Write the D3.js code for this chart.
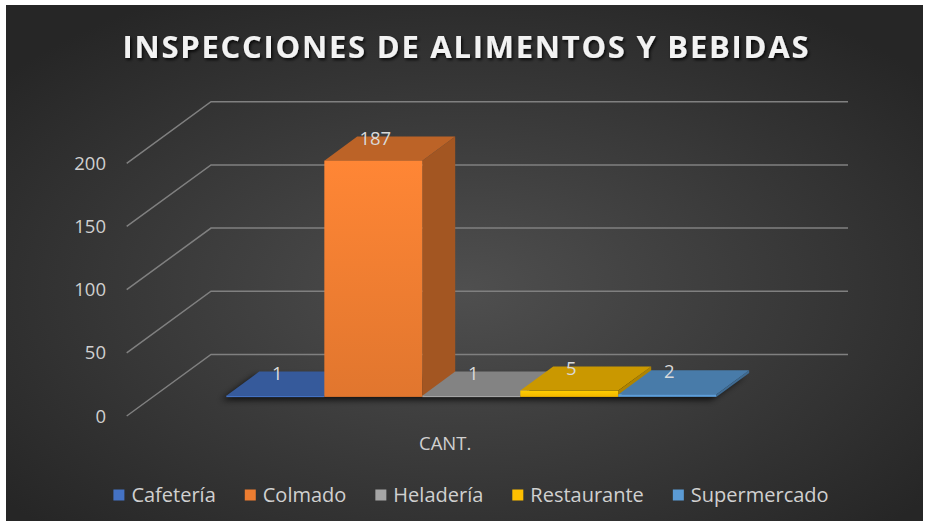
<!DOCTYPE html>
<html>
<head>
<meta charset="utf-8">
<script src="https://cdn.jsdelivr.net/npm/d3@7"></script>
<style>
  body { margin: 0; background: #fff; }
  text { font-family: "Open Sans", sans-serif; }
</style>
</head>
<body>
<div id="chart"></div>
<script>
// chart data
var categories = ["Cafetería", "Colmado", "Heladería", "Restaurante", "Supermercado"];
var values = [1, 187, 1, 5, 2];
var seriesColors = ["#4472C4", "#ED7D31", "#A5A5A5", "#FFC000", "#5B9BD5"];
var yTicks = [0, 50, 100, 150, 200];
var groupLabel = "CANT.";
var chartTitle = "INSPECCIONES DE ALIMENTOS Y BEBIDAS";

var W = 931, H = 527;

// front plane of the 3d box + depth vector
var front = { left: 126.7, right: 763.7, bottom: 416, top: 163.3 };
var depth = { dx: 84.3, dy: -61.6 };
var d0 = 0.31, d1 = 0.70; // bars sit between these depth fractions

var svg = d3.select("#chart").append("svg")
  .attr("width", W)
  .attr("height", H);

var defs = svg.append("defs");

// background radial gradient
var bg = defs.append("radialGradient").attr("id", "bg")
  .attr("cx", "50%").attr("cy", "55%").attr("r", "65%");
bg.append("stop").attr("offset", "0%").attr("stop-color", "#4f4f4f");
bg.append("stop").attr("offset", "100%").attr("stop-color", "#262626");

var shadow = defs.append("filter").attr("id", "titleShadow")
  .attr("x", "-10%").attr("y", "-30%").attr("width", "120%").attr("height", "160%");
shadow.append("feDropShadow").attr("dx", 1.5).attr("dy", 2).attr("stdDeviation", 1.5)
  .attr("flood-color", "#000").attr("flood-opacity", 0.8);

var blur = defs.append("filter").attr("id", "floorShadow")
  .attr("x", "-20%").attr("y", "-100%").attr("width", "140%").attr("height", "300%");
blur.append("feGaussianBlur").attr("stdDeviation", 3);

svg.append("rect")
  .attr("x", 6).attr("y", 5)
  .attr("width", 917).attr("height", 516)
  .attr("fill", "url(#bg)");

// title
svg.append("text")
  .attr("x", 465.5)
  .attr("y", 58)
  .attr("text-anchor", "middle")
  .attr("textLength", 686)
  .attr("lengthAdjust", "spacing")
  .attr("filter", "url(#titleShadow)")
  .style("font-size", "31px")
  .style("font-weight", "bold")
  .style("fill", "#f2f2f2")
  .text(chartTitle);

// scales
var y = d3.scaleLinear().domain([0, 200]).range([front.bottom, front.top]);
var x = d3.scaleBand().domain(categories)
  .range([front.left, front.right])
  .paddingInner(0).paddingOuter(0.75);

// gridlines: side wall diagonals + back wall horizontals
var grid = svg.append("g")
  .attr("stroke", "#808080")
  .attr("stroke-width", 1.5)
  .attr("fill", "none");

grid.selectAll("path")
  .data(yTicks)
  .enter().append("path")
  .attr("d", function (d) {
    var yf = y(d);
    return "M" + front.left + "," + yf +
      "L" + (front.left + depth.dx) + "," + (yf + depth.dy) +
      "L" + (front.right + depth.dx) + "," + (yf + depth.dy);
  });

// y axis labels
svg.append("g").selectAll("text")
  .data(yTicks)
  .enter().append("text")
  .attr("x", 106)
  .attr("y", function (d) { return y(d) + 6.5; })
  .attr("text-anchor", "end")
  .style("font-size", "18.5px")
  .style("fill", "#d0d0d0")
  .text(function (d) { return d; });

// bars
var bars = categories.map(function (c, i) {
  var xf = x(c) + d0 * depth.dx;
  var w = x.bandwidth();
  var yt = y(values[i]) + d0 * depth.dy;
  var yb = y(0) + d0 * depth.dy;
  var ddx = (d1 - d0) * depth.dx, ddy = (d1 - d0) * depth.dy;
  return { name: c, value: values[i], color: seriesColors[i], xf: xf, w: w, yt: yt, yb: yb, ddx: ddx, ddy: ddy };
});

// soft shadow under the bar row
var b0 = bars[0], bN = bars[bars.length - 1];
svg.append("polygon")
  .attr("points", [
    [b0.xf - 5, b0.yb + 3],
    [bN.xf + bN.w - 5, bN.yb + 3],
    [bN.xf + bN.w + bN.ddx - 5, bN.yb + bN.ddy + 3],
    [b0.xf + b0.ddx - 5, b0.yb + b0.ddy + 3]
  ].map(function (p) { return p.join(","); }).join(" "))
  .attr("fill", "#000")
  .attr("opacity", 0.75)
  .attr("filter", "url(#floorShadow)");

bars.forEach(function (b, i) {
  var g = defs.append("linearGradient").attr("id", "front" + i)
    .attr("x1", 0).attr("y1", 0).attr("x2", 0).attr("y2", 1);
  g.append("stop").attr("offset", "0%").attr("stop-color", d3.color(b.color).brighter(0.2));
  g.append("stop").attr("offset", "100%").attr("stop-color", d3.color(b.color).darker(0.15));
});

var barG = svg.append("g").selectAll("g")
  .data(bars)
  .enter().append("g");

// right side face
barG.append("polygon")
  .attr("points", function (b) {
    return [
      [b.xf + b.w, b.yt],
      [b.xf + b.w + b.ddx, b.yt + b.ddy],
      [b.xf + b.w + b.ddx, b.yb + b.ddy],
      [b.xf + b.w, b.yb]
    ].map(function (p) { return p.join(","); }).join(" ");
  })
  .attr("fill", function (b) { return d3.color(b.color).darker(1.05); });

// top face
barG.append("polygon")
  .attr("points", function (b) {
    return [
      [b.xf, b.yt],
      [b.xf + b.w, b.yt],
      [b.xf + b.w + b.ddx, b.yt + b.ddy],
      [b.xf + b.ddx, b.yt + b.ddy]
    ].map(function (p) { return p.join(","); }).join(" ");
  })
  .attr("fill", function (b) { return d3.color(b.color).darker(0.65); });

// front face
barG.append("rect")
  .attr("x", function (b) { return b.xf; })
  .attr("y", function (b) { return b.yt; })
  .attr("width", function (b) { return b.w; })
  .attr("height", function (b) { return Math.max(b.yb - b.yt, 1.5); })
  .attr("fill", function (b, i) { return "url(#front" + i + ")"; });

// data labels
barG.append("text")
  .attr("x", function (b) { return b.xf + b.w / 2 + 2; })
  .attr("y", function (b) { return b.yt - 16; })
  .attr("text-anchor", "middle")
  .style("font-size", "18.5px")
  .style("fill", "#d9d9d9")
  .text(function (b) { return b.value; });

// category label
svg.append("text")
  .attr("x", (front.left + front.right) / 2)
  .attr("y", 450)
  .attr("text-anchor", "middle")
  .style("font-size", "18.5px")
  .style("fill", "#d0d0d0")
  .text(groupLabel);

// legend
var legendSize = 11, legendGap = 7, itemGap = 29, legendCenter = 471, legendY = 495;
var legend = svg.append("g");
var items = legend.selectAll("g")
  .data(categories)
  .enter().append("g");

items.append("rect")
  .attr("width", legendSize)
  .attr("height", legendSize)
  .attr("y", legendY - legendSize / 2)
  .attr("fill", function (d, i) { return seriesColors[i]; });

items.append("text")
  .attr("x", legendSize + legendGap)
  .attr("y", legendY + 7)
  .style("font-size", "20px")
  .style("fill", "#d0d0d0")
  .text(function (d) { return d; });

var offsets = [], pos = 0;
items.each(function () {
  var tw = d3.select(this).select("text").node().getComputedTextLength();
  offsets.push(pos);
  pos += legendSize + legendGap + tw + itemGap;
});
var total = pos - itemGap;
var start = legendCenter - total / 2;
items.attr("transform", function (d, i) {
  return "translate(" + (start + offsets[i]) + ",0)";
});
</script>
</body>
</html>
